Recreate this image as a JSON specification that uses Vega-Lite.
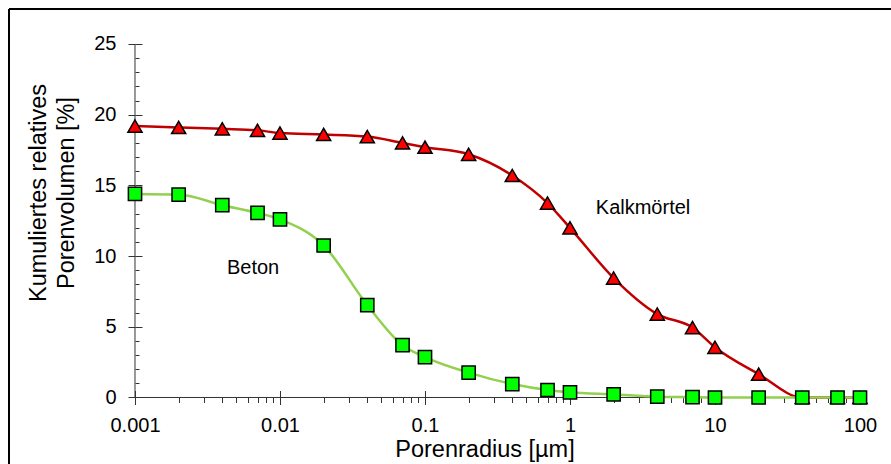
{
  "$schema": "https://vega.github.io/schema/vega-lite/v6.json",
  "autosize": {"type": "none"},
  "padding": {"left": 9, "top": 9, "right": 0, "bottom": 0},
  "width": 882,
  "height": 455,
  "background": "white",
  "config": {
    "view": {"stroke": null},
    "font": "Liberation Sans",
    "axis": {
      "grid": false,
      "domain": false,
      "labelFont": "Liberation Sans",
      "titleFont": "Liberation Sans",
      "labelColor": "black",
      "titleColor": "black",
      "tickColor": "#333333",
      "tickWidth": 1,
      "labelFontSize": 20,
      "titleFontSize": 23.5,
      "titleFontWeight": "normal",
      "labelFlush": false,
      "labelOverlap": false
    }
  },
  "datasets": {
    "curves": [
      {"r": 0.001, "v": 19.2, "series": "Kalkmörtel"},
      {"r": 0.002, "v": 19.1, "series": "Kalkmörtel"},
      {"r": 0.004, "v": 19.0, "series": "Kalkmörtel"},
      {"r": 0.007, "v": 18.9, "series": "Kalkmörtel"},
      {"r": 0.01, "v": 18.7, "series": "Kalkmörtel"},
      {"r": 0.02, "v": 18.6, "series": "Kalkmörtel"},
      {"r": 0.04, "v": 18.45, "series": "Kalkmörtel"},
      {"r": 0.07, "v": 18.0, "series": "Kalkmörtel"},
      {"r": 0.1, "v": 17.7, "series": "Kalkmörtel"},
      {"r": 0.2, "v": 17.2, "series": "Kalkmörtel"},
      {"r": 0.4, "v": 15.7, "series": "Kalkmörtel"},
      {"r": 0.7, "v": 13.75, "series": "Kalkmörtel"},
      {"r": 1, "v": 12.0, "series": "Kalkmörtel"},
      {"r": 2, "v": 8.45, "series": "Kalkmörtel"},
      {"r": 4, "v": 5.9, "series": "Kalkmörtel"},
      {"r": 7, "v": 4.95, "series": "Kalkmörtel"},
      {"r": 10, "v": 3.55, "series": "Kalkmörtel"},
      {"r": 20, "v": 1.65, "series": "Kalkmörtel"},
      {"r": 40, "v": 0, "series": "Kalkmörtel"},
      {"r": 70, "v": 0, "series": "Kalkmörtel"},
      {"r": 100, "v": 0, "series": "Kalkmörtel"},
      {"r": 0.001, "v": 14.4, "series": "Beton"},
      {"r": 0.002, "v": 14.35, "series": "Beton"},
      {"r": 0.004, "v": 13.6, "series": "Beton"},
      {"r": 0.007, "v": 13.05, "series": "Beton"},
      {"r": 0.01, "v": 12.6, "series": "Beton"},
      {"r": 0.02, "v": 10.75, "series": "Beton"},
      {"r": 0.04, "v": 6.54, "series": "Beton"},
      {"r": 0.07, "v": 3.7, "series": "Beton"},
      {"r": 0.1, "v": 2.86, "series": "Beton"},
      {"r": 0.2, "v": 1.76, "series": "Beton"},
      {"r": 0.4, "v": 0.95, "series": "Beton"},
      {"r": 0.7, "v": 0.53, "series": "Beton"},
      {"r": 1, "v": 0.37, "series": "Beton"},
      {"r": 2, "v": 0.22, "series": "Beton"},
      {"r": 4, "v": 0.06, "series": "Beton"},
      {"r": 7, "v": 0.02, "series": "Beton"},
      {"r": 10, "v": 0, "series": "Beton"},
      {"r": 20, "v": 0, "series": "Beton"},
      {"r": 40, "v": 0, "series": "Beton"},
      {"r": 70, "v": 0, "series": "Beton"},
      {"r": 100, "v": 0, "series": "Beton"}
    ],
    "axislines": [
      {"x": 0.001, "y": 0, "x2": 100, "y2": 0},
      {"x": 0.001, "y": 0, "x2": 0.001, "y2": 25}
    ],
    "labels": [
      {"x": 3.19, "y": 13.4, "label": "Kalkmörtel"},
      {"x": 0.00652, "y": 9.16, "label": "Beton"}
    ]
  },
  "layer": [
    {
      "data": {"values": [{}]},
      "mark": {"type": "rule", "color": "black", "strokeWidth": 2},
      "encoding": {
        "y": {
          "datum": 27.475, "type": "quantitative",
          "scale": {"domain": [-4.703, 27.475], "nice": false, "zero": false},
          "axis": null
        }
      }
    },
    {
      "data": {"values": [{}]},
      "mark": {"type": "rule", "color": "black", "strokeWidth": 2},
      "encoding": {
        "x": {
          "datum": 0.00013523, "type": "quantitative",
          "scale": {"type": "log", "domain": [0.00013523, 163.66], "nice": false},
          "axis": null
        }
      }
    },
    {
      "data": {"name": "axislines"},
      "mark": {"type": "rule", "color": "#333333", "strokeWidth": 1},
      "encoding": {
        "x": {
          "field": "x", "type": "quantitative",
          "scale": {"type": "log", "domain": [0.00013523, 163.66], "nice": false},
          "axis": {
            "orient": "bottom", "offset": -66.5,
            "values": [0.001, 0.01, 0.1, 1, 10, 100], "format": "~g",
            "tickSize": 7, "labelPadding": 11,
            "title": "Porenradius [µm]", "titleX": 475.5, "titleY": 58.5,
            "titleBaseline": "alphabetic", "titleAlign": "center"
          }
        },
        "y": {
          "field": "y", "type": "quantitative",
          "scale": {"domain": [-4.703, 27.475], "nice": false, "zero": false},
          "axis": {
            "orient": "left", "offset": -126,
            "values": [0, 5, 10, 15, 20, 25],
            "tickSize": 7, "labelPadding": 12,
            "title": ["Kumuliertes relatives", "Porenvolumen [%]"],
            "titleX": -97, "titleY": 183.5, "titleAngle": -90,
            "titleBaseline": "middle", "titleAlign": "center", "titleLineHeight": 28
          }
        },
        "x2": {"field": "x2"},
        "y2": {"field": "y2"}
      }
    },
    {
      "data": {"name": "curves"},
      "mark": {"type": "line", "interpolate": "monotone", "strokeWidth": 2.5},
      "encoding": {
        "x": {
          "field": "r", "type": "quantitative",
          "scale": {"type": "log", "domain": [0.00013523, 163.66], "nice": false},
          "axis": {
            "orient": "bottom", "offset": -66.5,
            "values": [0.001, 0.01, 0.1, 1, 10, 100],
            "tickSize": -7, "labels": false, "title": null
          }
        },
        "y": {
          "field": "v", "type": "quantitative",
          "scale": {"domain": [-4.703, 27.475], "nice": false, "zero": false},
          "axis": {
            "orient": "left", "offset": -126,
            "values": [0, 5, 10, 15, 20, 25],
            "tickSize": -7, "labels": false, "title": null
          }
        },
        "color": {
          "field": "series", "type": "nominal",
          "scale": {"domain": ["Kalkmörtel", "Beton"], "range": ["#C00000", "#92D050"]},
          "legend": null
        }
      }
    },
    {
      "data": {"name": "curves"},
      "mark": {"type": "point", "filled": true, "opacity": 1, "stroke": "black", "strokeWidth": 1.5},
      "encoding": {
        "x": {
          "field": "r", "type": "quantitative",
          "scale": {"type": "log", "domain": [0.00013523, 163.66], "nice": false},
          "axis": {
            "orient": "bottom", "offset": -66.5,
            "values": [0.002, 0.003, 0.004, 0.005, 0.006, 0.007, 0.008, 0.009,
                       0.02, 0.03, 0.04, 0.05, 0.06, 0.07, 0.08, 0.09,
                       0.2, 0.3, 0.4, 0.5, 0.6, 0.7, 0.8, 0.9,
                       2, 3, 4, 5, 6, 7, 8, 9,
                       20, 30, 40, 50, 60, 70, 80, 90],
            "tickSize": 5, "labels": false, "title": null
          }
        },
        "y": {
          "field": "v", "type": "quantitative",
          "scale": {"domain": [-4.703, 27.475], "nice": false, "zero": false},
          "axis": {
            "orient": "left", "offset": -126,
            "values": [1, 2, 3, 4, 6, 7, 8, 9, 11, 12, 13, 14, 16, 17, 18, 19, 21, 22, 23, 24],
            "tickSize": -4, "labels": false, "title": null
          }
        },
        "shape": {
          "field": "series", "type": "nominal",
          "scale": {"domain": ["Kalkmörtel", "Beton"], "range": ["triangle-up", "square"]},
          "legend": null
        },
        "fill": {
          "field": "series", "type": "nominal",
          "scale": {"domain": ["Kalkmörtel", "Beton"], "range": ["#FF0000", "#00FF00"]},
          "legend": null
        },
        "size": {
          "field": "series", "type": "nominal",
          "scale": {"domain": ["Kalkmörtel", "Beton"], "range": [200, 175]},
          "legend": null
        }
      }
    },
    {
      "data": {"name": "labels"},
      "mark": {"type": "text", "font": "Liberation Sans", "fontSize": 20, "color": "black", "align": "center", "baseline": "middle"},
      "encoding": {
        "x": {
          "field": "x", "type": "quantitative",
          "scale": {"type": "log", "domain": [0.00013523, 163.66], "nice": false},
          "axis": null
        },
        "y": {
          "field": "y", "type": "quantitative",
          "scale": {"domain": [-4.703, 27.475], "nice": false, "zero": false},
          "axis": null
        },
        "text": {"field": "label"}
      }
    }
  ],
  "resolve": {"axis": {"x": "independent", "y": "independent"}}
}
